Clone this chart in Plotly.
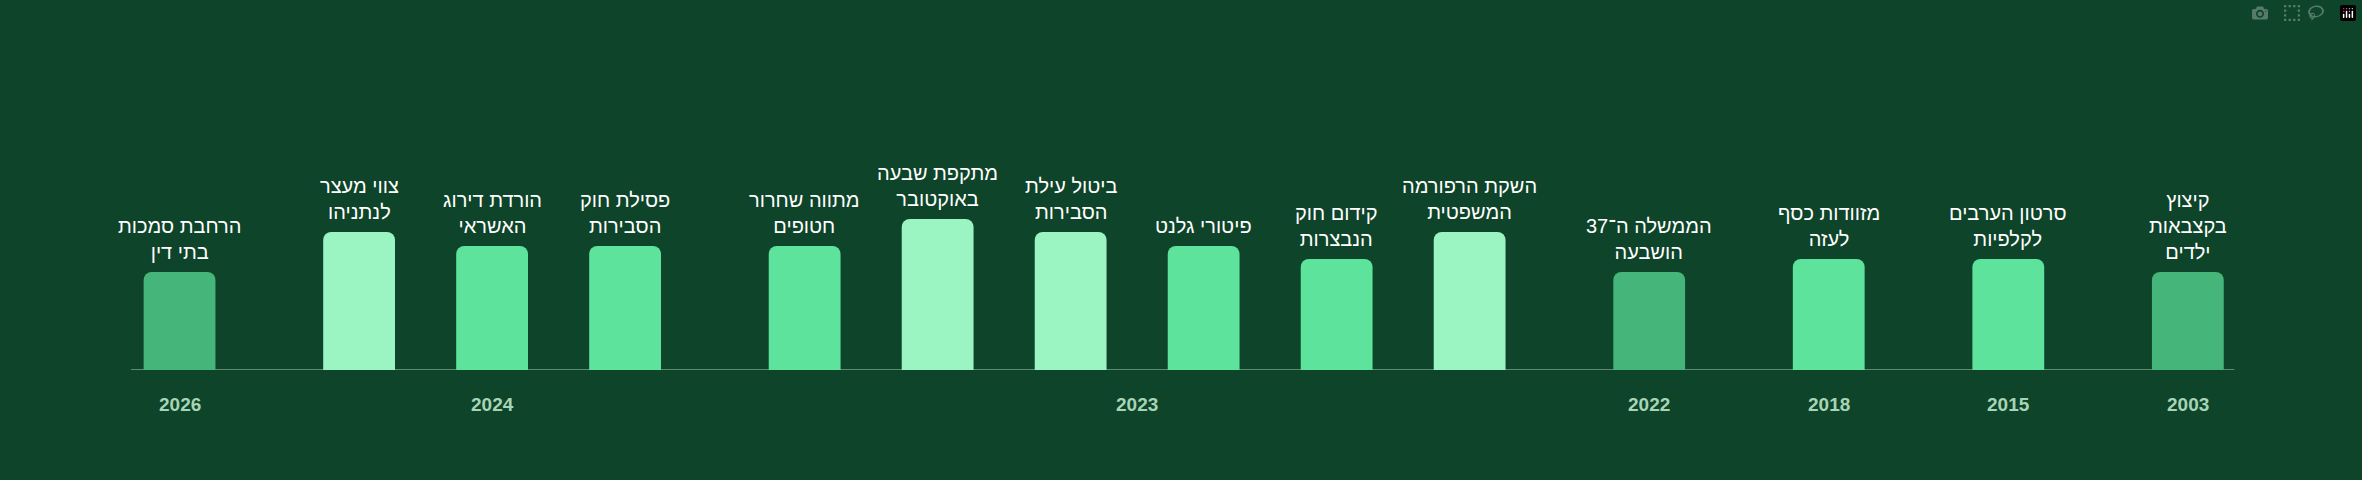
import plotly.graph_objects as go

# groups left to right, as drawn
YEARS = ["2026", "2024", "2023", "2022", "2018", "2015", "2003"]
GROUP_LABELS = [
    ["הרחבת סמכות<br>בתי דין"],
    ["צווי מעצר<br>לנתניהו", "הורדת דירוג<br>האשראי", "פסילת חוק<br>הסבירות"],
    ["מתווה שחרור<br>חטופים", "מתקפת שבעה<br>באוקטובר", "ביטול עילת<br>הסבירות",
     "פיטורי גלנט", "קידום חוק<br>הנבצרות", "השקת הרפורמה<br>המשפטית"],
    ["הממשלה ה־37<br>הושבעה"],
    ["מזוודות כסף<br>לעזה"],
    ["סרטון הערבים<br>לקלפיות"],
    ["קיצוץ<br>בקצבאות<br>ילדים"],
]
GROUP_VALUES = [
    [98],
    [138, 124, 124],
    [124, 151, 138, 124, 111, 138],
    [98],
    [111],
    [111],
    [98],
]

BG = "#0e4429"
GAP = 1.35


def bar_color(v):
    if v >= 135:
        return "#9af5c3"
    if v >= 105:
        return "#5ee39c"
    return "#45b57a"


xs, vals, labels, year_pos = [], [], [], []
pos = GAP
for lbls, vs in zip(GROUP_LABELS, GROUP_VALUES):
    start = pos
    for lbl, v in zip(lbls, vs):
        xs.append(pos)
        vals.append(v)
        labels.append(lbl)
        pos += 1
    year_pos.append((start + pos - 1) / 2)
    pos += GAP - 1

fig = go.Figure(go.Bar(
    x=xs, y=vals, width=0.54,
    marker=dict(color=[bar_color(v) for v in vals], cornerradius=8, line_width=0),
    hoverinfo="skip",
))

for x, v, lbl in zip(xs, vals, labels):
    fig.add_annotation(x=x, y=v + 7, text=lbl, showarrow=False, yanchor="bottom",
                       font=dict(color="white", size=20, family="Liberation Sans"))

for x, yr in zip(year_pos, YEARS):
    fig.add_annotation(x=x, xref="x", y=-35 / 370, yref="paper", text="<b>" + yr + "</b>",
                       showarrow=False, yanchor="middle",
                       font=dict(color="#a6d4b6", size=19, family="Liberation Sans"))

fig.add_shape(type="line", x0=0.985, x1=16.8, y0=0, y1=0, layer="below",
              line=dict(color="#5e8a72", width=2))

fig.update_layout(
    width=2362, height=480,
    paper_bgcolor=BG, plot_bgcolor=BG,
    margin=dict(l=0, r=0, t=0, b=110),
    showlegend=False,
    xaxis=dict(range=[0, 2362 / 133], visible=False, fixedrange=True),
    yaxis=dict(range=[0, 370], visible=False, fixedrange=True),
)

fig.write_html("out.html")

# drop the default page margin so the figure fills the window
with open("out.html", encoding="utf-8") as f:
    html = f.read()
html = html.replace("<body>", '<body style="margin:0;background:%s">' % BG, 1)
with open("out.html", "w", encoding="utf-8") as f:
    f.write(html)
